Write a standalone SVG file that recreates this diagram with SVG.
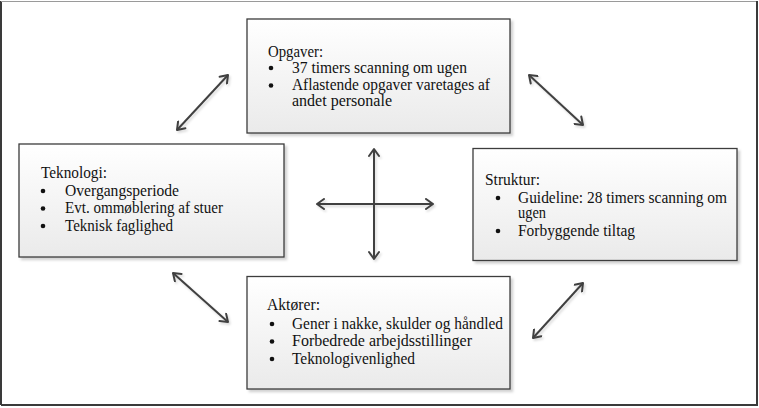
<svg xmlns="http://www.w3.org/2000/svg" width="759" height="408" viewBox="0 0 759 408">
<style>
.box{fill:url(#g);stroke:#3c3c3c;stroke-width:1.3;filter:url(#sh)}
text{font-family:"Liberation Serif","Times New Roman",serif;font-size:16px;fill:#111}
.b{fill:#111}
.con line{stroke:#404040;stroke-width:2;fill:none;marker-start:url(#ah);marker-end:url(#ah)}
</style>
<defs>
<linearGradient id="g" x1="0" y1="0" x2="0" y2="1">
<stop offset="0" stop-color="#ffffff"/>
<stop offset="1" stop-color="#eaeaea"/>
</linearGradient>
<filter id="sh" x="-10%" y="-10%" width="130%" height="130%">
<feDropShadow dx="2.5" dy="2.5" stdDeviation="1" flood-color="#000" flood-opacity="0.18"/>
</filter>
<filter id="ash" x="-20%" y="-20%" width="140%" height="140%">
<feDropShadow dx="1.5" dy="2" stdDeviation="0.8" flood-color="#000" flood-opacity="0.15"/>
</filter>
<marker id="ah" viewBox="0 0 12 12" refX="10" refY="6" markerWidth="12" markerHeight="12" markerUnits="userSpaceOnUse" orient="auto-start-reverse">
<path d="M3,1 L10,6 L3,11" fill="none" stroke="#404040" stroke-width="2" stroke-linecap="round" stroke-linejoin="round"/>
</marker>
</defs>
<rect x="0" y="0" width="759" height="408" fill="#ffffff"/>
<g id="frame">
<path d="M1,405 L1,1" stroke="#3a3a3a" stroke-width="2" fill="none"/>
<path d="M1,1.5 L757,1.5" stroke="#9a9a9a" stroke-width="1" fill="none"/>
<path d="M1,405 L757,405 L757,1" stroke="#3a3a3a" stroke-width="2" fill="none"/>
</g>
<g id="connectors" class="con" filter="url(#ash)">
<line x1="374" y1="149" x2="374" y2="259"/>
<line x1="317" y1="204" x2="433" y2="204"/>
<line x1="228" y1="75" x2="177" y2="130"/>
<line x1="529" y1="75" x2="583" y2="125"/>
<line x1="173" y1="273" x2="228" y2="322"/>
<line x1="583" y1="283" x2="533" y2="338"/>
</g>
<g id="opgaver">
<rect class="box" x="247" y="19" width="263" height="114"/>
<text x="268" y="57" textLength="55" lengthAdjust="spacingAndGlyphs">Opgaver:</text>
<circle class="b" cx="271" cy="68" r="2.3"/>
<text x="292" y="72.5" textLength="175" lengthAdjust="spacingAndGlyphs">37 timers scanning om ugen</text>
<circle class="b" cx="271" cy="85.5" r="2.3"/>
<text x="292" y="90" textLength="198" lengthAdjust="spacingAndGlyphs">Aflastende opgaver varetages af</text>
<text x="292" y="105.5" textLength="100" lengthAdjust="spacingAndGlyphs">andet personale</text>
</g>
<g id="teknologi">
<rect class="box" x="19" y="144" width="265" height="113"/>
<text x="41" y="177.5" textLength="66" lengthAdjust="spacingAndGlyphs">Teknologi:</text>
<circle class="b" cx="43" cy="191" r="2.3"/>
<text x="65" y="195.5" textLength="114" lengthAdjust="spacingAndGlyphs">Overgangsperiode</text>
<circle class="b" cx="43" cy="208.5" r="2.3"/>
<text x="65" y="213" textLength="158" lengthAdjust="spacingAndGlyphs">Evt. ommøblering af stuer</text>
<circle class="b" cx="43" cy="226" r="2.3"/>
<text x="65" y="230.5" textLength="108" lengthAdjust="spacingAndGlyphs">Teknisk faglighed</text>
</g>
<g id="struktur">
<rect class="box" x="473" y="148.5" width="264" height="112"/>
<text x="485" y="184.5" textLength="55" lengthAdjust="spacingAndGlyphs">Struktur:</text>
<circle class="b" cx="498" cy="198" r="2.3"/>
<text x="518" y="202.5" textLength="209" lengthAdjust="spacingAndGlyphs">Guideline: 28 timers scanning om</text>
<text x="518" y="218" textLength="28" lengthAdjust="spacingAndGlyphs">ugen</text>
<circle class="b" cx="498" cy="231" r="2.3"/>
<text x="518" y="235.5" textLength="117" lengthAdjust="spacingAndGlyphs">Forbyggende tiltag</text>
</g>
<g id="aktoerer">
<rect class="box" x="247" y="276.5" width="263" height="112.5"/>
<text x="267" y="310" textLength="53" lengthAdjust="spacingAndGlyphs">Aktører:</text>
<circle class="b" cx="272" cy="324" r="2.3"/>
<text x="292" y="328.5" textLength="211" lengthAdjust="spacingAndGlyphs">Gener i nakke, skulder og håndled</text>
<circle class="b" cx="272" cy="341.5" r="2.3"/>
<text x="292" y="346" textLength="180" lengthAdjust="spacingAndGlyphs">Forbedrede arbejdsstillinger</text>
<circle class="b" cx="272" cy="359" r="2.3"/>
<text x="292" y="363.5" textLength="123" lengthAdjust="spacingAndGlyphs">Teknologivenlighed</text>
</g>
</svg>
